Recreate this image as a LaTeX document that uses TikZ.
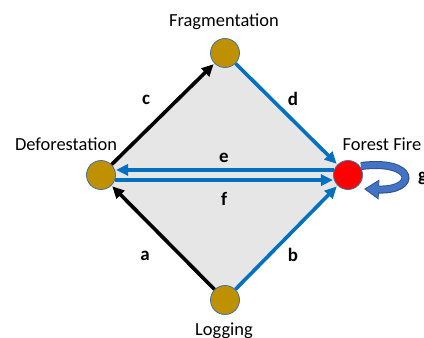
\documentclass[tikz,border=0pt]{standalone}
\usepackage{fontspec}
\setmainfont{Carlito}
\usetikzlibrary{arrows.meta}
\definecolor{gold}{RGB}{191,144,0}
\definecolor{rim}{RGB}{65,113,156}
\definecolor{fireRed}{RGB}{255,0,0}
\definecolor{arrowBlue}{RGB}{0,112,192}
\definecolor{loopBlue}{RGB}{68,114,196}
\definecolor{loopEdge}{RGB}{47,82,143}
\definecolor{fillGray}{RGB}{231,230,230}
\tikzset{
  site/.style={circle,draw=rim,line width=0.8bp,fill=gold,minimum size=29bp,inner sep=0pt},
  fire/.style={site,fill=fireRed},
  lbl/.style={font=\fontsize{18.5}{21}\selectfont,inner sep=0pt,anchor=base},
  let/.style={font=\bfseries\fontsize{19}{22}\selectfont,inner sep=0pt,anchor=base},
  blk/.style={draw=black,line width=3.6bp,-{Triangle[length=12bp,width=11bp]},shorten >=1bp},
  blu/.style={draw=arrowBlue,line width=3.6bp,-{Triangle[length=12bp,width=11bp]},shorten >=1bp},
}
\begin{document}
\begin{tikzpicture}[x=1bp,y=-1bp]
\useasboundingbox (0,0) rectangle (424,338);
\fill[white] (0,0) rectangle (424,338);
\fill[fillGray] (225,53) -- (348,175) -- (225,300) -- (101,175) -- cycle;
\node[site] (fr) at (225,53) {};
\node[site] (df) at (101,175) {};
\node[fire] (ff) at (348,175) {};
\node[site] (lg) at (225,300) {};
\node[lbl] (frl) at (224,26) {Fragmentation};
\node[lbl] (dfl) at (66,150) {Deforestation};
\node[lbl] (ffl) at (382,150) {Forest Fire};
\node[lbl] (lgl) at (224,335) {Logging};
\draw[blk] (lg) -- (df);
\draw[blk] (df) -- (fr);
\draw[blu] (fr) -- (ff);
\draw[blu] (lg) -- (ff);
\draw[blu] (ff.160) -- (df.20);
\draw[blu] (df.-20) -- (ff.-160);
\coordinate (g1) at (361,166);
\coordinate (g2) at (364,189);
\draw[draw=loopEdge,line width=8bp,-{Triangle[length=15bp,width=19bp]}] (g1) .. controls (416,159) and (418,191) .. (g2);
\draw[draw=loopBlue,line width=6bp,-{Triangle[length=12.5bp,width=16bp]}] (g1) .. controls (416,159) and (418,191) .. ([xshift=1.8bp]g2);
\node[let] (la) at (145,260) {a};
\node[let] (lb) at (293,261) {b};
\node[let] (lc) at (146,104) {c};
\node[let] (ld) at (293,105) {d};
\node[let] (le) at (224,162) {e};
\node[let] (lf) at (224,205) {f};
\node[let,anchor=base west] (lgg) at (418,181) {g};
\end{tikzpicture}
\end{document}
